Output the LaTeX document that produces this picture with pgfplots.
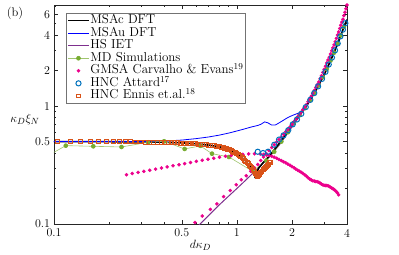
\documentclass[border=0pt]{standalone}
\usepackage{pgfplots}
\pgfplotsset{compat=1.18}
\definecolor{mpurple}{rgb}{0.494,0.184,0.556}
\definecolor{mgreen}{rgb}{0.466,0.674,0.188}
\definecolor{mblue}{rgb}{0,0.447,0.741}
\definecolor{morange}{rgb}{0.85,0.325,0.098}
\definecolor{axgray}{rgb}{0.15,0.15,0.15}
\pgfplotsset{mylegend/.style={legend image code/.code={\draw[mark repeat=2,mark phase=2,##1] plot coordinates {(0cm,0cm) (0.37cm,0cm) (0.74cm,0cm)};}}}
\begin{document}
\begin{tikzpicture}
\useasboundingbox (-54bp,-31bp) rectangle (345bp,224bp);
\begin{axis}[
 at={(0,0)}, anchor=south west,
 scale only axis, width=293bp, height=219bp,
 xmode=log, ymode=log,
 xmin=0.1, xmax=4, ymin=0.1, ymax=7.2,
 xtick={0.1,0.5,1,2,4}, xticklabels={0.1,0.5,1,2,4},
 minor xtick={0.2,0.3,0.4,0.6,0.7,0.8,0.9,3},
 ytick={0.1,0.5,1,2,4,6}, yticklabels={0.1,0.5,1,2,4,6},
 minor ytick={0.2,0.3,0.4,0.6,0.7,0.8,0.9,3,5,7},
 tick align=inside, tick pos=both,
 major tick length=4bp, minor tick length=2.5bp,
 axis line style={axgray, line width=0.5pt},
 every tick/.style={axgray, line width=0.4pt},
 ticklabel style={font=\fontsize{12}{14}\selectfont},
 xticklabel style={yshift=-1.5bp},
 yticklabel style={xshift=-0.5bp},
 xlabel={$d\kappa_D$},
 xlabel style={font=\fontsize{12.5}{14}\selectfont, yshift=4bp},
 ylabel={$\kappa_D\xi_N$},
 ylabel style={rotate=-90, at={(rel axis cs:-0.099,0.475)}, anchor=center, font=\fontsize{12.5}{14}\selectfont},
 legend cell align=left,
 legend style={at={(0.041,0.963)}, anchor=north west, draw=black!55, line width=0.4pt,
   font=\fontsize{13}{14}\selectfont, row sep=0pt, inner sep=1pt,
   nodes={inner sep=0.6pt, text height=8.8pt, text depth=2.6pt}},
]
% MSAc DFT (oscillatory branch)
\addplot[black, line width=1.6pt, mylegend] coordinates {
(0.1,0.500) (0.2,0.499) (0.3,0.497) (0.4,0.494) (0.5,0.488) (0.6,0.479) (0.7,0.467)
(0.8,0.452) (0.9,0.430) (1.0,0.398) (1.05,0.376) (1.1,0.350) (1.15,0.325) (1.19,0.302)
(1.22,0.285) (1.24,0.270) (1.255,0.255) (1.262,0.245)};
\addlegendentry{MSAc DFT}
% MSAu DFT
\addplot[blue, line width=0.8pt, mylegend] coordinates {
(0.1,0.500) (0.2,0.500) (0.3,0.501) (0.4,0.505) (0.5,0.515) (0.6,0.530) (0.7,0.547)
(0.8,0.567) (0.9,0.590) (1.0,0.615) (1.1,0.640) (1.2,0.665) (1.3,0.685) (1.35,0.700)
(1.42,0.735) (1.48,0.720) (1.55,0.690) (1.62,0.690) (1.7,0.720) (1.8,0.760) (1.9,0.800)
(2.0,0.830) (2.1,0.855) (2.2,0.880) (2.3,0.920) (2.4,1.00) (2.5,1.11) (2.6,1.23) (2.7,1.36)
(2.8,1.50) (2.9,1.67) (3.0,1.85) (3.1,2.06) (3.2,2.30) (3.3,2.56) (3.4,2.84) (3.5,3.18)
(3.6,3.56) (3.7,3.98) (3.8,4.45) (3.9,4.95) (4.0,5.40)};
\addlegendentry{MSAu DFT}
% HS IET
\addplot[mpurple, line width=1pt, mylegend] coordinates {
(0.58,0.088) (0.6,0.093) (0.7,0.118) (0.8,0.145) (0.9,0.172) (1.0,0.200) (1.1,0.230)
(1.2,0.262) (1.3,0.295) (1.4,0.330) (1.5,0.370) (1.6,0.415) (1.7,0.465) (1.8,0.525)
(1.9,0.595) (2.0,0.665) (2.1,0.740) (2.2,0.820) (2.3,0.915) (2.4,1.00) (2.5,1.11) (2.6,1.23)
(2.7,1.36) (2.8,1.50) (2.9,1.67) (3.0,1.85) (3.1,2.06) (3.2,2.30) (3.3,2.56) (3.4,2.84)
(3.5,3.18) (3.6,3.56) (3.7,3.98) (3.8,4.45) (3.9,4.95) (4.0,5.40)};
\addlegendentry{HS IET}
% MD simulations
\addplot[color=mgreen!70, line width=0.6pt, mark=*, mark size=2pt,
  mark options={draw=mgreen, fill=mgreen}, mylegend] coordinates {
(0.09,0.37) (0.116,0.462) (0.164,0.456) (0.234,0.450) (0.327,0.493) (0.40,0.503)
(0.518,0.433) (0.631,0.460) (0.731,0.395) (0.905,0.370) (1.22,0.280) (1.45,0.345)
(1.6,0.41) (1.75,0.50) (1.9,0.60) (2.05,0.72) (2.2,0.835) (2.35,0.96) (2.5,1.11)
(2.65,1.29) (2.8,1.50) (2.95,1.76) (3.1,2.06) (3.25,2.43) (3.4,2.84) (3.55,3.37)
(3.7,3.98) (3.85,4.70)};
\addlegendentry{MD Simulations}
% GMSA Carvalho & Evans
\addplot[only marks, mark=*, mark size=1.6pt, color=magenta, mylegend] coordinates {
(0.249,0.262) (0.268,0.268) (0.288,0.274) (0.310,0.280) (0.334,0.286) (0.359,0.292)
(0.387,0.299) (0.416,0.305) (0.448,0.312) (0.482,0.318) (0.518,0.325) (0.558,0.332)
(0.600,0.340) (0.646,0.347) (0.695,0.354) (0.748,0.361) (0.804,0.368) (0.866,0.375)
(0.931,0.381) (1.002,0.386) (1.078,0.390) (1.160,0.393) (1.248,0.394) (1.343,0.392)
(1.40,0.389) (1.45,0.385) (1.5,0.381) (1.55,0.376) (1.6,0.369) (1.65,0.361) (1.7,0.353)
(1.75,0.345) (1.8,0.337) (1.85,0.330) (1.9,0.322) (1.95,0.315) (2.0,0.307) (2.05,0.300)
(2.1,0.293) (2.15,0.286) (2.2,0.280) (2.25,0.274) (2.3,0.268) (2.35,0.261) (2.4,0.254)
(2.45,0.247) (2.5,0.241) (2.55,0.236) (2.6,0.233) (2.65,0.231) (2.7,0.229) (2.75,0.228)
(2.8,0.226) (2.85,0.222) (2.9,0.218) (2.95,0.215) (3.0,0.213) (3.05,0.212) (3.1,0.212)
(3.15,0.211) (3.2,0.208) (3.25,0.205) (3.3,0.202) (3.35,0.199) (3.4,0.196) (3.45,0.192)
(3.5,0.188) (3.55,0.183) (3.6,0.177)
(0.59,0.103) (0.647,0.117) (0.716,0.133) (0.778,0.148) (0.846,0.171) (0.92,0.192)
(0.992,0.215) (1.057,0.237) (1.125,0.257) (1.19,0.280) (1.25,0.300) (1.30,0.320)
(1.35,0.345) (1.40,0.370) (1.45,0.395) (1.5,0.420) (1.55,0.445) (1.6,0.470) (1.65,0.495)
(1.7,0.520) (1.75,0.545) (1.8,0.575) (1.85,0.605) (1.9,0.635) (1.95,0.665) (2.0,0.700)
(2.05,0.735) (2.1,0.770) (2.15,0.810) (2.2,0.850) (2.25,0.890) (2.3,0.935) (2.35,0.980)
(2.4,1.03) (2.45,1.09) (2.5,1.15) (2.55,1.21) (2.6,1.28) (2.65,1.36) (2.7,1.44) (2.75,1.52)
(2.8,1.60) (2.85,1.70) (2.9,1.81) (2.95,1.93) (3.0,2.05) (3.05,2.18) (3.1,2.32) (3.15,2.46)
(3.2,2.60) (3.25,2.77) (3.3,2.95) (3.35,3.12) (3.4,3.30) (3.45,3.52) (3.5,3.75) (3.55,4.00)
(3.6,4.25) (3.65,4.55) (3.7,4.85) (3.75,5.15) (3.8,5.45) (3.85,5.85) (3.9,6.25) (3.95,6.70)
(4.0,7.20)};
\addlegendentry{GMSA Carvalho \& Evans$^{19}$}
% HNC Attard
\addplot[only marks, mark=o, mark size=2.6pt, color=mblue, line width=1pt, mylegend] coordinates {
(1.30,0.41) (1.39,0.40) (1.48,0.41) (1.60,0.47) (1.70,0.52) (1.80,0.565) (1.91,0.625)
(2.02,0.70) (2.13,0.77) (2.25,0.86) (2.38,0.98) (2.52,1.13) (2.65,1.29) (2.78,1.47)
(2.92,1.70) (3.05,1.95) (3.18,2.25) (3.31,2.58) (3.44,2.97) (3.56,3.40) (3.68,3.90)
(3.80,4.45) (3.92,5.05)};
\addlegendentry{HNC Attard$^{17}$}
% HNC Ennis et al.
\addplot[only marks, mark=square, mark size=2pt, color=morange, line width=0.8pt, mylegend] coordinates {
(0.105,0.500) (0.1225,0.500) (0.140,0.500) (0.1575,0.500) (0.175,0.499) (0.1925,0.499)
(0.210,0.499) (0.2275,0.499) (0.245,0.498) (0.2625,0.498) (0.280,0.497) (0.2975,0.497)
(0.315,0.496) (0.3325,0.496) (0.350,0.495) (0.3675,0.494) (0.385,0.493) (0.4025,0.492)
(0.420,0.491) (0.4375,0.490) (0.455,0.489) (0.4725,0.488) (0.490,0.487) (0.5075,0.486)
(0.525,0.485) (0.5425,0.483) (0.560,0.482) (0.5775,0.480) (0.595,0.479) (0.6125,0.477)
(0.630,0.475) (0.6475,0.473) (0.665,0.471) (0.6825,0.469) (0.700,0.467) (0.7175,0.465)
(0.735,0.463) (0.7525,0.461) (0.770,0.458) (0.7875,0.454) (0.805,0.451) (0.8225,0.447)
(0.840,0.443) (0.8575,0.440) (0.875,0.436) (0.8925,0.432) (0.910,0.427) (0.9275,0.421)
(0.945,0.415) (0.9625,0.408) (0.980,0.402) (0.9975,0.396) (1.015,0.388) (1.0325,0.381)
(1.050,0.373) (1.0675,0.365) (1.085,0.357) (1.1025,0.349) (1.120,0.341) (1.1375,0.333)
(1.155,0.325) (1.1725,0.317) (1.190,0.309) (1.2075,0.300) (1.225,0.290) (1.2425,0.280)
(1.260,0.270) (1.2775,0.261) (1.290,0.255) (1.305,0.260) (1.32,0.265) (1.335,0.270)
(1.35,0.275) (1.37,0.281) (1.39,0.288) (1.41,0.295) (1.43,0.302) (1.45,0.309) (1.47,0.316)
(1.49,0.323) (1.51,0.330) (1.525,0.335)};
\addlegendentry{HNC Ennis et.al.$^{18}$}
% MSAc DFT (monotonic branch)
\addplot[black, line width=1.6pt, forget plot] coordinates {
(1.262,0.245) (1.28,0.270) (1.32,0.300) (1.4,0.335) (1.5,0.375) (1.6,0.425) (1.7,0.480)
(1.8,0.540) (1.9,0.610) (2.0,0.690) (2.1,0.76) (2.2,0.835) (2.3,0.915) (2.4,1.00) (2.5,1.11)
(2.6,1.23) (2.7,1.36) (2.8,1.50) (2.9,1.67) (3.0,1.85) (3.1,2.06) (3.2,2.30) (3.3,2.56)
(3.4,2.84) (3.5,3.18) (3.6,3.56) (3.7,3.98) (3.8,4.45) (3.9,4.95) (4.0,5.40)};
\end{axis}
\node[font=\fontsize{12.5}{14}\selectfont] at (-39bp,211bp) {(b)};
\end{tikzpicture}
\end{document}
